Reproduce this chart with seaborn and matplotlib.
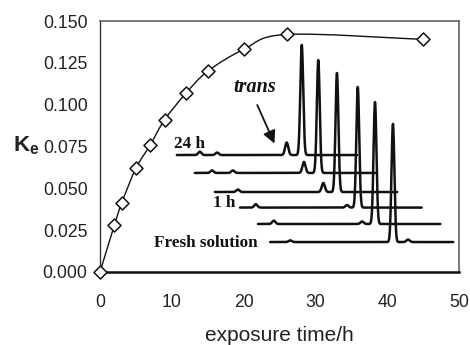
import numpy as np
import pandas as pd
import matplotlib
matplotlib.use("Agg")
import matplotlib.pyplot as plt
import seaborn as sns
from matplotlib.path import Path
from matplotlib.patches import PathPatch

# ---------------- data ----------------
time_h = [0, 2, 3, 5, 7, 9, 12, 15, 20, 26, 45]
ke = [0.000, 0.028, 0.041, 0.062, 0.076, 0.091, 0.107, 0.120, 0.133, 0.142, 0.139]

x_ticks = [0, 10, 20, 30, 40, 50]
y_ticks = [0.000, 0.025, 0.050, 0.075, 0.100, 0.125, 0.150]

# inset chromatograms (drawn in the chart's own data coordinates)
trace_start = [10.7, 13.2, 16.0, 19.5, 22.0, 23.7]
trace_end = [35.8, 38.3, 41.4, 44.8, 47.4, 49.2]
trace_base = [0.0699, 0.0592, 0.0478, 0.0385, 0.0287, 0.0179]
main_peak_x = [28.1, 30.4, 33.0, 35.9, 38.3, 40.8]
main_peak_top = [0.1357, 0.1267, 0.1190, 0.1106, 0.1016, 0.0885]
minor_peak_x = [[13.9, 16.3, 26.0], [15.6, 18.5, 28.4], [19.2, 31.1],
                [21.7, 34.4], [24.2, 36.5], [26.5, 42.9]]
minor_peak_h = [[0.002, 0.0015, 0.0075], [0.0015, 0.0015, 0.0066], [0.0015, 0.0054],
                [0.002, 0.0015], [0.002, 0.0015], [0.001, 0.0015]]

trace_labels = ["24 h", "1 h", "Fresh solution"]
trace_label_x = [12.4, 17.3, 14.7]
trace_label_y = [0.0765, 0.0412, 0.0173]

# ---------------- style ----------------
sns.set_style("white")
plt.rcParams["font.family"] = ["Liberation Sans", "DejaVu Sans"]
plt.rcParams["mathtext.fontset"] = "custom"
plt.rcParams["mathtext.bf"] = "Liberation Sans:bold"
plt.rcParams["mathtext.rm"] = "Liberation Sans"

fig = plt.figure(figsize=(4.7, 3.45), dpi=100)
ax = fig.add_axes([0.2128, 0.2116, 0.9766 - 0.2128, 0.9391 - 0.2116])

# ---------------- inset chromatograms ----------------
sigma = 0.2
for i in range(len(trace_start)):
    xs = np.linspace(trace_start[i], trace_end[i], 1200)
    ys = np.full_like(xs, trace_base[i])
    ys += (main_peak_top[i] - trace_base[i]) * np.exp(-0.5 * ((xs - main_peak_x[i]) / sigma) ** 2)
    for px, ph in zip(minor_peak_x[i], minor_peak_h[i]):
        ys += ph * np.exp(-0.5 * ((xs - px) / 0.22) ** 2)
    df = pd.DataFrame({"x": xs, "y": ys})
    sns.lineplot(data=df, x="x", y="y", ax=ax, color="#111111", lw=1.8,
                 sort=False, estimator=None, zorder=2)

for lab, lx, ly in zip(trace_labels, trace_label_x, trace_label_y):
    ax.text(lx, ly, lab, family=["Liberation Serif", "DejaVu Serif"], weight="bold",
            fontsize=12.3, ha="center", va="center", color="#111111", zorder=4)

ax.text(21.6, 0.1105, "trans", family=["Liberation Serif", "DejaVu Serif"],
        weight="bold", style="italic", fontsize=14.5, ha="center", va="center",
        color="#111111", zorder=4)
ax.annotate("", xy=(24.3, 0.0768), xytext=(21.9, 0.0998),
            arrowprops=dict(arrowstyle="-|>,head_length=0.75,head_width=0.38",
                            color="#111111", lw=1.3, shrinkA=0, shrinkB=0), zorder=4)

# ---------------- smooth curve through the data (Excel-style Bezier) ----------------
P = np.column_stack([time_h, ke]).astype(float)
n = len(P)
verts = [tuple(P[0])]
codes = [Path.MOVETO]
for i in range(n - 1):
    p0 = P[i - 1] if i > 0 else P[i]
    p1 = P[i]
    p2 = P[i + 1]
    p3 = P[i + 2] if i + 2 < n else P[i + 1]
    c1 = p1 + (p2 - p0) / 6.0
    c2 = p2 - (p3 - p1) / 6.0
    verts += [tuple(c1), tuple(c2), tuple(p2)]
    codes += [Path.CURVE4] * 3
ax.add_patch(PathPatch(Path(verts, codes), facecolor="none", edgecolor="#111111",
                       lw=1.0, zorder=3))

sns.scatterplot(x=time_h, y=ke, ax=ax, marker="D", s=44, facecolor="white",
                edgecolor="#111111", linewidth=1.1, zorder=5, clip_on=False)

# ---------------- axes ----------------
ax.set_xlim(0, 50)
ax.set_ylim(0, 0.150)
ax.set_xticks(x_ticks)
ax.set_xticklabels([str(t) for t in x_ticks])
ax.set_yticks(y_ticks)
ax.set_yticklabels([f"{t:.3f}" for t in y_ticks])
ax.tick_params(axis="both", labelsize=12.7, labelcolor="#222222", color="#333333",
               direction="out", width=1.0)
ax.tick_params(axis="x", length=4, pad=12)
ax.tick_params(axis="y", length=3, pad=6)

for side in ["top", "right"]:
    ax.spines[side].set_color("#555555")
    ax.spines[side].set_linewidth(1.1)
ax.spines["left"].set_color("#333333")
ax.spines["left"].set_linewidth(1.0)
ax.spines["bottom"].set_color("#111111")
ax.spines["bottom"].set_linewidth(1.8)

ax.set_xlabel("exposure time/h", fontsize=15, color="#222222", va="center")
ax.xaxis.set_label_coords(0.5, -0.252)
ax.set_ylabel(r"$\mathbf{K}_{\mathbf{e}}$", fontsize=16, rotation=0,
              ha="left", va="center", color="#222222")
ax.yaxis.set_label_coords(-0.242, 0.505)

fig.savefig("out.png", dpi=100)
